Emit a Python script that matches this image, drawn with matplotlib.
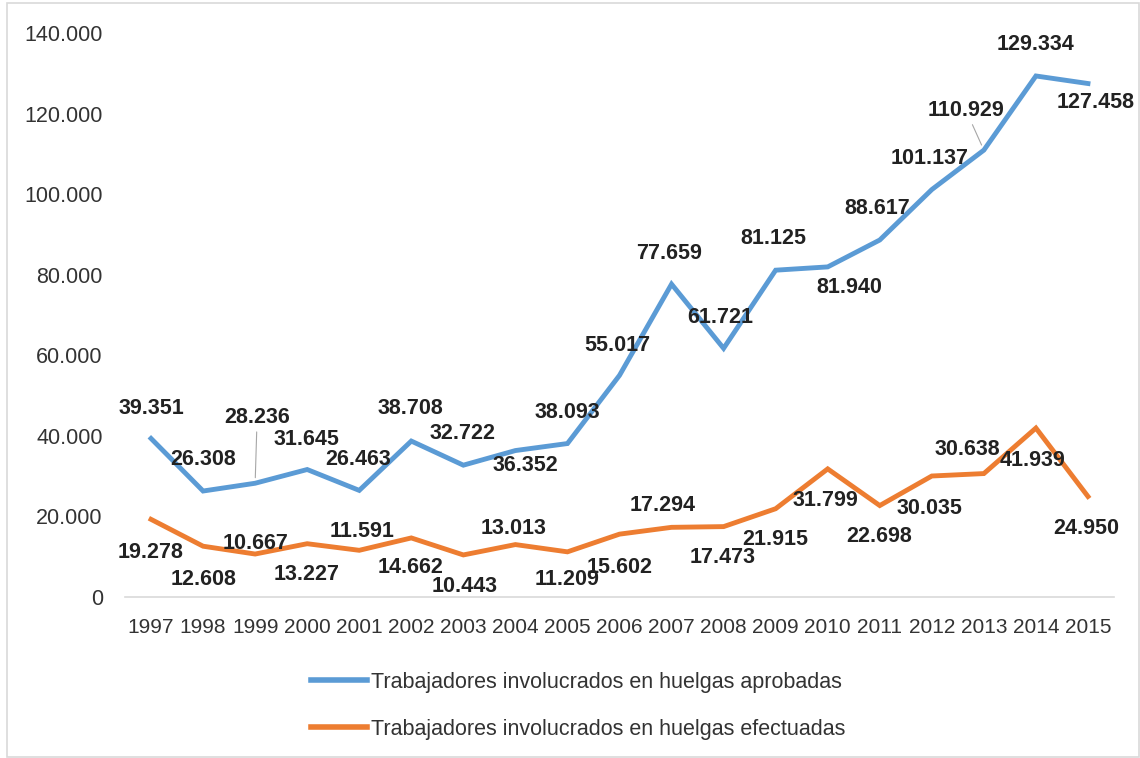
import matplotlib.pyplot as plt
from matplotlib.patches import Rectangle

years = ["1997", "1998", "1999", "2000", "2001", "2002", "2003", "2004", "2005", "2006",
         "2007", "2008", "2009", "2010", "2011", "2012", "2013", "2014", "2015"]

aprobadas = [39351, 26308, 28236, 31645, 26463, 38708, 32722, 36352, 38093, 55017,
             77659, 61721, 81125, 81940, 88617, 101137, 110929, 129334, 127458]
efectuadas = [19278, 12608, 10667, 13227, 11591, 14662, 10443, 13013, 11209, 15602,
              17294, 17473, 21915, 31799, 22698, 30035, 30638, 41939, 24950]

label_aprobadas = "Trabajadores involucrados en huelgas aprobadas"
label_efectuadas = "Trabajadores involucrados en huelgas efectuadas"

# label offsets in pixels (dx, dy), as placed in the original chart
off_aprobadas = [(0, 30), (0, 32), (2, 66), (-1, 30), (-1, 31), (-1, 33), (-1, 32), (10, -15),
                 (0, 31), (-2, 30), (-2, 31), (-3, 31), (-2, 32), (22, -21), (-3, 32),
                 (-2, 31), (-18, 40), (0, 31), (8, -19)]
off_efectuadas = [(0, -33), (0, -33), (0, 11), (-1, -31), (3, 19), (-1, -30), (1, -32), (-2, 16),
                  (0, -28), (0, -33), (-9, 22), (-1, -31), (0, -31), (-2, -32), (-1, -31),
                  (-2, -32), (-17, 24), (-3, -32), (-2, -32)]
leaders = {2, 16}  # blue labels drawn with a leader line

blue = "#5B9BD5"
orange = "#ED7D31"

plt.rcParams['font.family'] = ['Liberation Sans', 'DejaVu Sans']

fig = plt.figure(figsize=(11.4, 7.58), dpi=100)
ax = fig.add_axes([125 / 1140, 1 - 597 / 758, (1114 - 125) / 1140, (597 - 33) / 758])

x = list(range(len(years)))
ax.plot(x, aprobadas, color=blue, lw=3.5, solid_joinstyle='miter', label=label_aprobadas)
ax.plot(x, efectuadas, color=orange, lw=3.5, solid_joinstyle='miter', label=label_efectuadas)

def fmt(v):
    return f"{v:,}".replace(",", ".")

for i, v in enumerate(aprobadas):
    dx, dy = off_aprobadas[i]
    props = None
    if i in leaders:
        props = dict(arrowstyle='-', color='#A6A6A6', lw=0.8, shrinkA=1, shrinkB=4)
    ax.annotate(fmt(v), (i, v), xytext=(dx, dy), textcoords='offset pixels',
                ha='center', va='center', fontsize=15.5, fontweight='bold',
                color='#222222', arrowprops=props)

for i, v in enumerate(efectuadas):
    dx, dy = off_efectuadas[i]
    ax.annotate(fmt(v), (i, v), xytext=(dx, dy), textcoords='offset pixels',
                ha='center', va='center', fontsize=15.5, fontweight='bold',
                color='#222222')

ax.set_xlim(-0.5, len(years) - 0.5)
ax.set_ylim(0, 140000)
ax.set_xticks(x)
ax.set_xticklabels(years)
ax.set_yticks(range(0, 140001, 20000))
ax.set_yticklabels([fmt(t) for t in range(0, 140001, 20000)])
ax.tick_params(axis='both', length=0, colors='#333333')
ax.tick_params(axis='y', pad=16, labelsize=15.5)
ax.tick_params(axis='x', pad=15, labelsize=15)

for s in ['top', 'right', 'left']:
    ax.spines[s].set_visible(False)
ax.spines['bottom'].set_color('#D9D9D9')
ax.spines['bottom'].set_linewidth(1.2)

fig.legend(loc='center', bbox_to_anchor=(0.507, 0.069), frameon=False, fontsize=15.5,
           handlelength=2.6, handletextpad=0.2, labelspacing=1.2)
leg = fig.legends[0]
for h in leg.get_lines():
    h.set_linewidth(4)
for t in leg.get_texts():
    t.set_color('#333333')

fig.patches.append(Rectangle((7 / 1140, 1 / 758), 1132 / 1140, 754 / 758,
                             transform=fig.transFigure, fill=False,
                             edgecolor='#D9D9D9', lw=1.2))

fig.savefig("out.png", dpi=100)
